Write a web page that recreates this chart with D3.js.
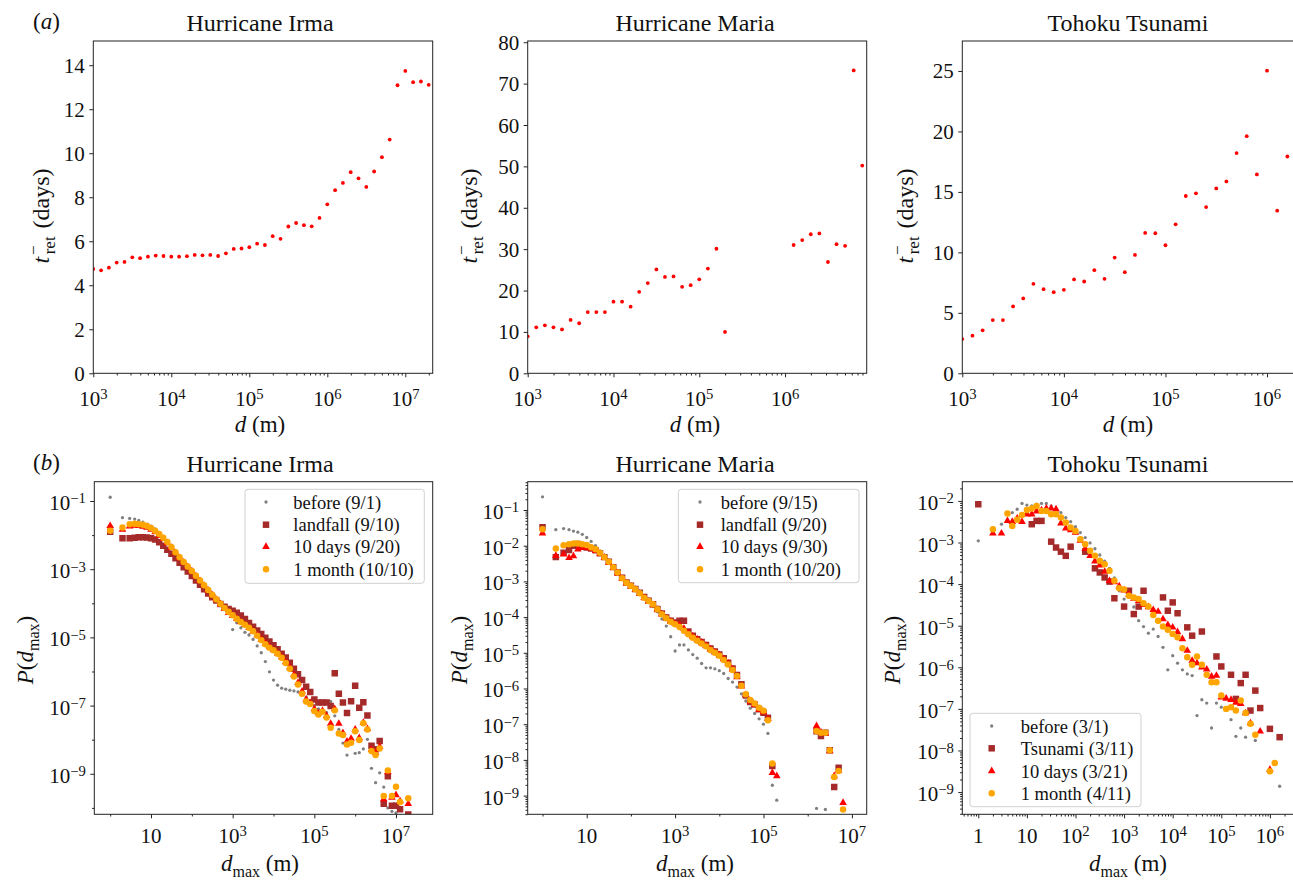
<!DOCTYPE html>
<html>
<head>
<meta charset="utf-8">
<script src="https://cdn.jsdelivr.net/npm/d3@7"></script>
<style>
  body { margin: 0; background: #fff; }
  text { font-family: "Liberation Serif", "Times New Roman", serif; fill: #111; }
</style>
</head>
<body>
<script>
// ---------------------------------------------------------------
// (a) mean return time t_ret^- versus distance d
// ---------------------------------------------------------------
const topBins = [1000, 1259, 1585, 1995, 2512, 3162, 3981, 5012, 6310, 7943,
  1e4, 1.259e4, 1.585e4, 1.995e4, 2.512e4, 3.162e4, 3.981e4, 5.012e4, 6.310e4, 7.943e4,
  1e5, 1.259e5, 1.585e5, 1.995e5, 2.512e5, 3.162e5, 3.981e5, 5.012e5, 6.310e5, 7.943e5,
  1e6, 1.259e6, 1.585e6, 1.995e6, 2.512e6, 3.162e6, 3.981e6, 5.012e6, 6.310e6, 7.943e6,
  1e7, 1.259e7, 1.585e7, 1.995e7];

const retIrma = [4.74, 4.68, 4.80, 5.03, 5.06, 5.27, 5.23, 5.30, 5.35, 5.33,
  5.30, 5.30, 5.32, 5.38, 5.36, 5.38, 5.33, 5.45, 5.65, 5.67,
  5.73, 5.89, 5.83, 6.23, 6.11, 6.67, 6.83, 6.73, 6.68, 7.06,
  7.68, 8.32, 8.65, 9.14, 8.86, 8.47, 9.17, 9.82, 10.62, 13.09,
  13.74, 13.23, 13.26, 13.11];

const retMaria = [8.94, 11.12, 11.6, 11.1, 10.6, 12.9, 12.1, 14.8, 14.8, 14.8,
  17.3, 17.3, 16.1, 19.7, 21.8, 25.1, 23.3, 23.4, 20.9, 21.3,
  22.7, 25.3, 30.1, 10.0, null, null, null, null, null, null,
  null, 31.0, 32.2, 33.6, 33.8, 26.9, 31.2, 30.8, 73.2, 50.2];

const retTohoku = [2.83, 3.11, 3.55, 4.40, 4.40, 5.53, 6.19, 7.40, 6.96, 6.71,
  6.90, 7.76, 7.59, 8.53, 7.81, 9.57, 8.36, 9.79, 11.61, 11.58,
  10.59, 12.32, 14.66, 14.88, 13.75, 15.29, 15.87, 18.21, 19.61, 16.45,
  25.03, 13.45, 17.93];

const retTicksIrma = [0, 2, 4, 6, 8, 10, 12, 14];
const retTicksMaria = [0, 10, 20, 30, 40, 50, 60, 70, 80];
const retTicksTohoku = [0, 5, 10, 15, 20, 25];

// ---------------------------------------------------------------
// (b) distribution of the maximum displacement d_max
//     values are log10 P(d_max) for each d_max bin (null = empty bin)
// ---------------------------------------------------------------
const dmaxBins = [1, 2, 3, 3.981, 5.012, 6.310, 7.943,
  10, 12.59, 15.85, 19.95, 25.12, 31.62, 39.81, 50.12, 63.10, 79.43,
  100, 125.9, 158.5, 199.5, 251.2, 316.2, 398.1, 501.2, 631.0, 794.3,
  1e3, 1.259e3, 1.585e3, 1.995e3, 2.512e3, 3.162e3, 3.981e3, 5.012e3, 6.310e3, 7.943e3,
  1e4, 1.259e4, 1.585e4, 1.995e4, 2.512e4, 3.162e4, 3.981e4, 5.012e4, 6.310e4, 7.943e4,
  1e5, 1.259e5, 1.585e5, 1.995e5, 2.512e5, 3.162e5, 3.981e5, 5.012e5, 6.310e5, 7.943e5,
  1e6, 1.259e6, 1.585e6, 1.995e6, 2.512e6, 3.162e6, 3.981e6, 5.012e6, 6.310e6, 7.943e6,
  1e7, 1.259e7, 1.585e7, 1.995e7];

const irmaBefore = [-0.89, -1.49, -1.51, -1.53, -1.57, -1.62, -1.68,
  -1.74, -1.82, -1.92, -2.04, -2.17, -2.32, -2.47, -2.62, -2.77, -2.90,
  -3.03, -3.17, -3.31, -3.46, -3.60, -3.75, -3.88, -4.02, -4.15, -4.30,
  -4.77, -4.57, -4.72, -4.85, -4.93, -5.06, -5.25, -5.45, -5.71, -6.01,
  -6.25, -6.40, -6.49, -6.52, -6.55, -6.57, -6.60, -6.67, -6.75, -6.85,
  -7.00, -7.10, -7.15, -7.20, -6.88, -7.30, -7.70, -8.10, -8.45, null,
  -8.40, -8.38, -8.27, -7.99, -8.84, -9.26, -8.97, -9.39, -10.00, -10.10,
  -10.15, null, null, null];
const irmaLandfall = [-1.90, -2.09, -2.09, -2.08, -2.06, -2.06, -2.07,
  -2.09, -2.13, -2.21, -2.31, -2.43, -2.55, -2.68, -2.81, -2.94, -3.07,
  -3.20, -3.33, -3.46, -3.59, -3.71, -3.82, -3.92, -4.02, -4.10, -4.17,
  -4.22, -4.28, -4.36, -4.46, -4.58, -4.69, -4.80, -4.90, -5.01, -5.12,
  -5.23, -5.35, -5.48, -5.59, -5.74, -5.92, -6.08, -6.25, -6.45, -6.60,
  -6.82, -6.91, -6.91, -6.91, -7.01, -6.05, -6.65, -6.91, -7.22, -6.87,
  -6.42, -7.06, -6.90, -7.29, -8.18, -8.28, -8.04, -9.88, -9.07, -9.94,
  -9.94, -10.04, null, -10.19];
const irma10Days = [-1.73, -1.84, -1.74, -1.72, -1.73, -1.75, -1.78,
  -1.84, -1.91, -2.01, -2.11, -2.23, -2.37, -2.52, -2.67, -2.80, -2.93,
  -3.06, -3.20, -3.34, -3.48, -3.62, -3.76, -3.89, -4.02, -4.16, -4.28,
  -4.37, -4.45, -4.54, -4.63, -4.72, -4.82, -4.94, -5.06, -5.17, -5.27,
  -5.37, -5.47, -5.58, -5.72, -5.88, -6.10, -6.33, -6.58, -6.82, -6.92,
  -7.10, -7.22, -7.15, -7.30, -7.53, -7.10, -7.53, -7.80, -8.05, -7.97,
  -7.70, -7.95, -7.50, -7.68, -8.30, -8.38, -8.20, -9.75, -8.95, -9.70,
  -9.62, -9.80, null, -9.88];
const irma1Month = [-1.87, -1.78, -1.68, -1.67, -1.68, -1.70, -1.73,
  -1.79, -1.87, -1.97, -2.08, -2.20, -2.35, -2.50, -2.65, -2.79, -2.92,
  -3.05, -3.19, -3.33, -3.47, -3.61, -3.75, -3.88, -4.01, -4.14, -4.25,
  -4.35, -4.45, -4.55, -4.63, -4.72, -4.82, -4.95, -5.08, -5.20, -5.30,
  -5.38, -5.48, -5.60, -5.75, -5.92, -6.15, -6.38, -6.65, -6.88, -6.95,
  -7.16, -7.26, -7.18, -7.35, -7.65, -7.14, -7.82, -7.86, -8.14, -8.09,
  -7.75, -8.01, -7.52, -7.70, -8.33, -8.45, -8.26, -9.65, -8.90, -9.65,
  -9.38, -9.83, null, -9.72];

const mariaBefore = [-0.63, -1.55, -1.52, -1.55, -1.59, -1.62, -1.68,
  -1.77, -1.88, -2.00, -2.15, -2.30, -2.45, -2.60, -2.75, -2.90, -3.03,
  -3.12, -3.21, -3.32, -3.45, -3.56, -3.70, -3.85, -4.05, -4.25, -4.55,
  -4.95, -4.78, -4.78, -4.92, -5.05, -5.15, -5.30, -5.42, -5.42, -5.45,
  -5.50, -5.58, -5.72, -5.82, -5.96, -6.15, -6.35, -6.55, -6.70, -6.85,
  -7.00, -7.26, -8.71, -9.13, null, null, null, null, null, null,
  null, null, -9.36, null, -9.39];
const mariaLandfall = [-1.48, -2.32, -2.20, -2.12, -2.00, -1.95, -2.00,
  -2.05, -2.08, -2.13, -2.21, -2.32, -2.45, -2.60, -2.75, -2.90, -3.03,
  -3.12, -3.21, -3.32, -3.44, -3.54, -3.64, -3.77, -3.90, -4.01, -4.10,
  -4.15, -4.10, -4.10, -4.40, -4.52, -4.62, -4.70, -4.78, -4.88, -4.96,
  -5.05, -5.15, -5.28, -5.44, -5.62, -5.88, -6.20, -6.38, -6.45, -6.58,
  -6.68, -6.82, -8.17, null, null, null, null, null, null, null,
  null, null, -7.20, -7.33, -7.24, -7.73, -8.76, -8.22];
const maria10Days = [-1.65, -2.28, -2.24, -2.34, -2.29, -2.10, -2.06,
  -2.06, -2.08, -2.14, -2.22, -2.33, -2.47, -2.62, -2.77, -2.92, -3.05,
  -3.14, -3.23, -3.34, -3.46, -3.56, -3.66, -3.79, -3.92, -4.03, -4.12,
  -4.18, -4.22, -4.32, -4.45, -4.54, -4.62, -4.71, -4.80, -4.90, -4.98,
  -5.06, -5.17, -5.30, -5.46, -5.68, -5.94, -6.18, -6.36, -6.46, -6.60,
  -6.66, -6.85, -8.36, -8.45, null, null, null, null, null, null,
  null, null, -7.05, -7.22, -7.26, -7.75, -8.45, -8.30, -9.20];
const maria1Month = [-1.54, -2.08, -1.99, -1.96, -1.94, -1.94, -1.96,
  -1.98, -2.04, -2.10, -2.20, -2.32, -2.45, -2.60, -2.75, -2.91, -3.04,
  -3.13, -3.22, -3.33, -3.46, -3.55, -3.64, -3.78, -3.92, -4.03, -4.13,
  -4.20, -4.28, -4.38, -4.48, -4.58, -4.66, -4.74, -4.82, -4.92, -5.00,
  -5.08, -5.20, -5.33, -5.48, -5.65, -5.92, -6.16, -6.32, -6.42, -6.54,
  -6.62, -6.89, -8.10, null, null, null, null, null, null, null,
  null, null, -7.19, -7.24, -7.24, -7.73, -8.48, -8.31, -9.39];

const tohokuBefore = [-2.96, -2.72, -2.56, -2.45, -2.28, -2.20, -2.06,
  -2.10, -2.12, -2.08, -2.06, -2.06, -2.12, -2.20, -2.28, -2.40, -2.50,
  -2.62, -2.76, -2.88, -3.01, -3.15, -3.30, -3.45, -3.62, -3.85, -4.16,
  -4.36, -4.32, -4.55, -4.88, -5.02, -5.18, -5.08, -5.26, -5.52, -6.06,
  -5.72, -5.90, -6.06, -6.16, -6.20, -7.16, -6.78, -6.86, -7.46, -6.86,
  -6.96, null, -7.26, -7.66, -7.46, -7.68, null, -7.76, null, null,
  null, null, -8.86];
const tohokuTsunami = [-2.08, null, null, null, null, null, null,
  null, -2.56, -2.48, -2.48, null, -2.98, -3.12, -3.22, -3.32, -3.10,
  null, null, -3.22, null, -3.62, -3.72, -3.84, -3.94, -4.34, null,
  -4.54, -4.16, -4.72, -4.54, -4.16, null, null, null, -4.32, -4.64,
  -4.44, -4.70, null, -5.04, -5.24, null, -5.14, null, null, -5.74,
  -5.98, null, -6.18, -6.76, -6.38, -6.18, -7.04, -6.56, -6.98, null,
  -7.48, null, -7.68];
const tohoku10Days = [null, -2.78, -2.78, -2.48, -2.50, -2.42, -2.50,
  -2.32, -2.32, -2.25, -2.22, -2.18, -2.18, -2.20, -2.54, -2.66, -2.70,
  -2.76, -2.95, -3.15, -3.32, -3.45, -3.55, -3.70, -3.92, -3.95, -4.05,
  -4.15, -4.25, -4.35, -4.40, -4.50, -4.55, -4.62, -4.66, -4.84, -4.98,
  -5.04, -5.15, -5.32, -5.60, -5.84, -5.90, -6.00, -6.05, -6.22, -6.20,
  -6.72, -6.75, -6.78, -6.85, -6.88, -7.10, -7.34, null, -7.54, null,
  -8.46];
const tohoku1Month = [null, -2.68, null, -2.30, -2.60, -2.45, -2.34,
  -2.22, -2.18, -2.12, -2.24, -2.24, -2.32, -2.32, -2.40, -2.52, -2.64,
  -2.72, -2.92, -3.04, -3.20, -3.32, -3.44, -3.52, -3.68, -3.92, -4.10,
  -4.13, -4.28, -4.32, -4.36, -4.46, -4.54, -4.74, -4.88, -5.02, -5.10,
  -5.20, -5.28, -5.54, -5.76, -5.94, -5.74, -5.94, -6.18, -6.36, -6.36,
  -6.68, -7.00, -6.96, -7.04, -6.80, -7.10, -7.36, -7.62, null, null,
  -8.50, -8.30];

const titles = ["Hurricane Irma", "Hurricane Maria", "Tohoku Tsunami"];
const legendIrma = ["before (9/1)", "landfall (9/10)", "10 days (9/20)", "1 month (10/10)"];
const legendMaria = ["before (9/15)", "landfall (9/20)", "10 days (9/30)", "1 month (10/20)"];
const legendTohoku = ["before (3/1)", "Tsunami (3/11)", "10 days (3/21)", "1 month (4/11)"];

// ---------------------------------------------------------------
// drawing
// ---------------------------------------------------------------
const W = 1293, H = 881;
const INK = "#222";
const svg = d3.select("body").append("svg").attr("width", W).attr("height", H)
  .attr("font-family", "'Liberation Serif', 'Times New Roman', serif");
svg.append("rect").attr("width", W).attr("height", H).attr("fill", "#fff");
const defs = svg.append("defs");

const TICK_FONT = 21, LABEL_FONT = 23, TITLE_FONT = 24, LEGEND_FONT = 18.5;

// marker styles for the four snapshots, in legend order
const markerStyles = [
  { type: d3.symbolCircle,   size: 8.5, color: "#808080" },
  { type: d3.symbolSquare,   size: 42,  color: "#a52a2a" },
  { type: d3.symbolTriangle, size: 25,  color: "#ff0000" },
  { type: d3.symbolCircle,   size: 33,  color: "#ffa500" }
];

function expText(e) { return e < 0 ? "\u2212" + Math.abs(e) : String(e); }

// "10" with a raised exponent ("1" and "10" stay plain)
function powerLabel(sel, e) {
  if (e === 0) { sel.text("1"); return; }
  if (e === 1) { sel.text("10"); return; }
  sel.append("tspan").text("10");
  sel.append("tspan").attr("dy", "-0.45em").attr("font-size", "0.7em").text(expText(e));
}

function minorValues(lo, hi, decades, withSub) {
  const out = [];
  const d0 = Math.floor(Math.log10(lo)), d1 = Math.ceil(Math.log10(hi));
  for (let d = d0; d <= d1; d++) {
    if (withSub) {
      for (let m = 2; m <= 9; m++) out.push(m * Math.pow(10, d));
    }
    if (decades.includes(d)) out.push(Math.pow(10, d));
  }
  return out.filter(v => v >= lo && v <= hi);
}

function frameAndClip(key, x0, x1, y0, y1) {
  defs.append("clipPath").attr("id", "clip-" + key)
    .append("rect").attr("x", x0).attr("y", y0).attr("width", x1 - x0).attr("height", y1 - y0);
}

function styleAxis(g) {
  g.select(".domain").remove();
  g.selectAll(".tick line").attr("stroke", INK).attr("stroke-width", 1);
  g.selectAll(".tick text").remove();
}

// ------------------------- top row -----------------------------
const TOP = { y0: 41, y1: 373.3 };
const topPanels = [
  { key: "ta", x0: 93.3, x1: 432.7, xDom: [1e3, 2.244e7], yMax: 15.1, ticks: retTicksIrma,
    values: retIrma, title: titles[0], cx: 260, yLabX: 49 },
  { key: "tb", x0: 527.7, x1: 866.7, xDom: [1e3, 8.95e6], yMax: 80.3, ticks: retTicksMaria,
    values: retMaria, title: titles[1], cx: 695, yLabX: 477 },
  { key: "tc", x0: 962.3, x1: 1297, xDom: [1e3, 1.972e6], yMax: 27.48, ticks: retTicksTohoku,
    values: retTohoku, title: titles[2], cx: 1128, yLabX: 913 }
];

topPanels.forEach(p => {
  const x = d3.scaleLog().domain(p.xDom).range([p.x0, p.x1]);
  const y = d3.scaleLinear().domain([0, p.yMax]).range([TOP.y1, TOP.y0]);
  frameAndClip(p.key, p.x0, p.x1, TOP.y0, TOP.y1);
  const g = svg.append("g");

  const pts = topBins.map((d, i) => [d, p.values[i]]).filter(d => d[1] != null && d[1] !== undefined);
  g.append("g").attr("clip-path", `url(#clip-${p.key})`)
    .selectAll("circle").data(pts).join("circle")
    .attr("cx", d => x(d[0])).attr("cy", d => y(d[1])).attr("r", 1.9).attr("fill", "#ff0000");

  // x axis: decades plus 2..9 minor ticks
  const lo = p.xDom[0], hi = p.xDom[1];
  const majors = d3.range(Math.ceil(Math.log10(lo)), Math.floor(Math.log10(hi)) + 1);
  g.append("g").attr("transform", `translate(0,${TOP.y1})`)
    .call(d3.axisBottom(x).tickValues(majors.map(e => Math.pow(10, e))).tickSize(4).tickFormat(""))
    .call(styleAxis);
  g.append("g").attr("transform", `translate(0,${TOP.y1})`)
    .call(d3.axisBottom(x).tickValues(minorValues(lo, hi, [], true)).tickSize(2.2).tickFormat(""))
    .call(styleAxis);
  majors.forEach(e => {
    const t = g.append("text").attr("x", x(Math.pow(10, e))).attr("y", 405.5)
      .attr("text-anchor", "middle").attr("font-size", TICK_FONT);
    powerLabel(t, e);
  });

  // y axis
  g.append("g").attr("transform", `translate(${p.x0},0)`)
    .call(d3.axisLeft(y).tickValues(p.ticks).tickSize(4).tickFormat(""))
    .call(styleAxis);
  p.ticks.forEach(v => {
    g.append("text").attr("x", p.x0 - 8.5).attr("y", y(v) + 7.5)
      .attr("text-anchor", "end").attr("font-size", TICK_FONT).text(v);
  });

  g.append("rect").attr("x", p.x0).attr("y", TOP.y0).attr("width", p.x1 - p.x0)
    .attr("height", TOP.y1 - TOP.y0).attr("fill", "none").attr("stroke", INK).attr("stroke-width", 1);

  // title
  svg.append("text").attr("x", p.cx).attr("y", 30.5).attr("text-anchor", "middle")
    .attr("font-size", TITLE_FONT).text(p.title);

  // x label: d (m)
  const xl = svg.append("text").attr("x", p.cx).attr("y", 432).attr("text-anchor", "middle")
    .attr("font-size", LABEL_FONT);
  xl.append("tspan").attr("font-style", "italic").text("d");
  xl.append("tspan").text(" (m)");

  // y label: t_ret^- (days)
  const yl = svg.append("text").attr("transform", `translate(${p.yLabX},216) rotate(-90)`)
    .attr("text-anchor", "middle").attr("font-size", 24);
  yl.append("tspan").attr("font-style", "italic").text("t");
  yl.append("tspan").attr("font-size", 17).attr("dy", -10).attr("dx", 2).text("\u2212");
  yl.append("tspan").attr("font-size", 17).attr("dx", -9).attr("dy", 16).text("ret");
  yl.append("tspan").attr("dy", -6).attr("dx", 2).text(" (days)");
});

// panel tags
[["a", 29], ["b", 470]].forEach(([s, yb]) => {
  const t = svg.append("text").attr("x", 33).attr("y", yb).attr("font-size", LABEL_FONT);
  t.append("tspan").text("(");
  t.append("tspan").attr("font-style", "italic").text(s);
  t.append("tspan").text(")");
});

// ------------------------- bottom row --------------------------
const BOT = { y0: 481.7, y1: 814.3 };
const botPanels = [
  { key: "ba", x0: 94.3, x1: 432.7, xDom: [0.408, 7.925e7], yDom: [6.49e-11, 0.368],
    xMaj: [1, 3, 5, 7], xMinDec: [0, 2, 4, 6], xSub: false,
    yMaj: [-1, -3, -5, -7, -9], yMinDec: [-2, -4, -6, -8, -10], ySub: false,
    series: [irmaBefore, irmaLandfall, irma10Days, irma1Month], legend: legendIrma,
    leg: { x0: 245, x1: 424.3, y0: 489.3, y1: 583.3, mx: 266, tx: 293.3, rows: [502, 524.7, 546.7, 569.3] },
    title: titles[0], cx: 260, yLabX: 33 },
  { key: "bb", x0: 527.7, x1: 866.7, xDom: [0.462, 2.163e7], yDom: [2.99e-10, 0.621],
    xMaj: [1, 3, 5, 7], xMinDec: [0, 2, 4, 6], xSub: false,
    yMaj: [-1, -2, -3, -4, -5, -6, -7, -8, -9], yMinDec: [], ySub: true,
    series: [mariaBefore, mariaLandfall, maria10Days, maria1Month], legend: legendMaria,
    leg: { x0: 678.3, x1: 859, y0: 489.3, y1: 582.7, mx: 700, tx: 720.7, rows: [502, 524.7, 546.7, 569.3] },
    title: titles[1], cx: 695, yLabX: 466.5 },
  { key: "bc", x0: 962.3, x1: 1297, xDom: [0.469, 3.61e6], yDom: [2.92e-10, 0.0290],
    xMaj: [0, 1, 2, 3, 4, 5, 6], xMinDec: [], xSub: true,
    yMaj: [-2, -3, -4, -5, -6, -7, -8, -9], yMinDec: [], ySub: true,
    series: [tohokuBefore, tohokuTsunami, tohoku10Days, tohoku1Month], legend: legendTohoku,
    leg: { x0: 970, x1: 1141, y0: 713.3, y1: 806.7, mx: 991.7, tx: 1020.7, rows: [726, 748.3, 771, 793.3] },
    title: titles[2], cx: 1128, yLabX: 900 }
];

botPanels.forEach(p => {
  const x = d3.scaleLog().domain(p.xDom).range([p.x0, p.x1]);
  const y = d3.scaleLog().domain(p.yDom).range([BOT.y1, BOT.y0]);
  frameAndClip(p.key, p.x0, p.x1, BOT.y0, BOT.y1);
  const g = svg.append("g");
  const marks = g.append("g").attr("clip-path", `url(#clip-${p.key})`);

  p.series.forEach((vals, si) => {
    const st = markerStyles[si];
    const pts = dmaxBins.map((d, i) => [d, vals[i]])
      .filter(d => d[1] !== null && d[1] !== undefined)
      .map(d => [d[0], Math.pow(10, d[1])]);
    marks.append("g").selectAll("path").data(pts).join("path")
      .attr("d", d3.symbol().type(st.type).size(st.size))
      .attr("transform", d => `translate(${x(d[0])},${y(d[1])})`)
      .attr("fill", st.color);
  });

  // x axis
  g.append("g").attr("transform", `translate(0,${BOT.y1})`)
    .call(d3.axisBottom(x).tickValues(p.xMaj.map(e => Math.pow(10, e))).tickSize(4).tickFormat(""))
    .call(styleAxis);
  g.append("g").attr("transform", `translate(0,${BOT.y1})`)
    .call(d3.axisBottom(x).tickValues(minorValues(p.xDom[0], p.xDom[1], p.xMinDec, p.xSub)).tickSize(2.2).tickFormat(""))
    .call(styleAxis);
  p.xMaj.forEach(e => {
    const t = g.append("text").attr("x", x(Math.pow(10, e))).attr("y", 842.5)
      .attr("text-anchor", "middle").attr("font-size", TICK_FONT);
    powerLabel(t, e);
  });

  // y axis
  g.append("g").attr("transform", `translate(${p.x0},0)`)
    .call(d3.axisLeft(y).tickValues(p.yMaj.map(e => Math.pow(10, e))).tickSize(4).tickFormat(""))
    .call(styleAxis);
  g.append("g").attr("transform", `translate(${p.x0},0)`)
    .call(d3.axisLeft(y).tickValues(minorValues(p.yDom[0], p.yDom[1], p.yMinDec, p.ySub)).tickSize(2.2).tickFormat(""))
    .call(styleAxis);
  p.yMaj.forEach(e => {
    const t = g.append("text").attr("x", p.x0 - 8.5).attr("y", y(Math.pow(10, e)) + 9)
      .attr("text-anchor", "end").attr("font-size", TICK_FONT);
    powerLabel(t, e);
  });

  g.append("rect").attr("x", p.x0).attr("y", BOT.y0).attr("width", p.x1 - p.x0)
    .attr("height", BOT.y1 - BOT.y0).attr("fill", "none").attr("stroke", INK).attr("stroke-width", 1);

  // legend
  const L = p.leg;
  const lg = svg.append("g");
  lg.append("rect").attr("x", L.x0).attr("y", L.y0).attr("width", L.x1 - L.x0).attr("height", L.y1 - L.y0)
    .attr("rx", 3).attr("fill", "#fff").attr("fill-opacity", 0.8).attr("stroke", "#d0d0d0").attr("stroke-width", 1);
  p.legend.forEach((name, i) => {
    const st = markerStyles[i];
    lg.append("path").attr("d", d3.symbol().type(st.type).size(st.size))
      .attr("transform", `translate(${L.mx},${L.rows[i]})`).attr("fill", st.color);
    lg.append("text").attr("x", L.tx).attr("y", L.rows[i] + 6.5)
      .attr("font-size", LEGEND_FONT).text(name);
  });

  // title
  svg.append("text").attr("x", p.cx).attr("y", 472).attr("text-anchor", "middle")
    .attr("font-size", TITLE_FONT).text(p.title);

  // x label: d_max (m)
  const xl = svg.append("text").attr("x", p.cx).attr("y", 871).attr("text-anchor", "middle")
    .attr("font-size", LABEL_FONT);
  xl.append("tspan").attr("font-style", "italic").text("d");
  xl.append("tspan").attr("font-size", 16).attr("dy", 6).text("max");
  xl.append("tspan").attr("dy", -6).text(" (m)");

  // y label: P(d_max)
  const yl = svg.append("text").attr("transform", `translate(${p.yLabX},650) rotate(-90)`)
    .attr("text-anchor", "middle").attr("font-size", LABEL_FONT);
  yl.append("tspan").attr("font-style", "italic").text("P");
  yl.append("tspan").text("(");
  yl.append("tspan").attr("font-style", "italic").text("d");
  yl.append("tspan").attr("font-size", 16).attr("dy", 6).text("max");
  yl.append("tspan").attr("dy", -6).text(")");
});
</script>
</body>
</html>
